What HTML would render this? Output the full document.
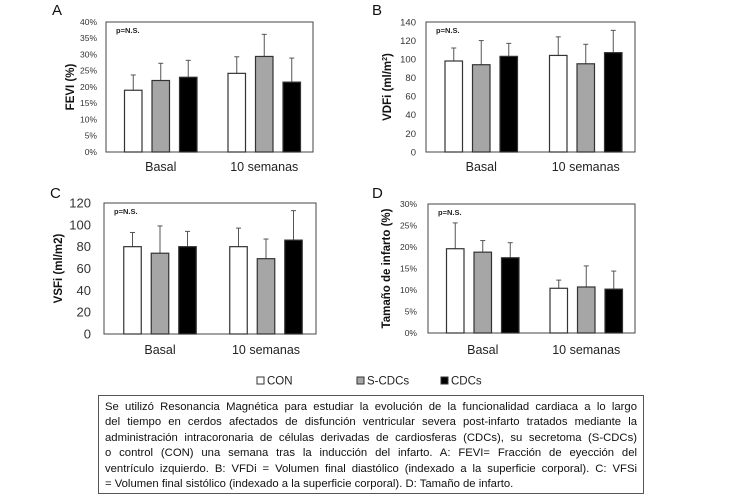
<!DOCTYPE html>
<html><head><meta charset="utf-8">
<style>
body{margin:0;background:#fff;width:750px;height:500px;overflow:hidden;font-family:"Liberation Sans",sans-serif;}
svg{position:absolute;left:0;top:0}
#cap{position:absolute;left:98px;top:395px;width:532px;height:89px;border:1px solid #555;padding:4px 6px;font-size:11.3px;line-height:15.4px;color:#111;}
#cap div{text-align:justify;text-align-last:justify;white-space:nowrap;}
#cap div.last{text-align-last:left;}
</style></head><body>
<svg id="chart" width="750" height="500"></svg>
<div id="cap">
<div>Se utilizó Resonancia Magnética para estudiar la evolución de la funcionalidad cardiaca a lo largo</div>
<div>del tiempo en cerdos afectados de disfunción ventricular severa post-infarto tratados mediante la</div>
<div>administración intracoronaria de células derivadas de cardiosferas (CDCs), su secretoma (S-CDCs)</div>
<div>o control (CON) una semana tras la inducción del infarto. A: FEVI= Fracción de eyección del</div>
<div>ventrículo izquierdo. B: VFDi = Volumen final diastólico (indexado a la superficie corporal). C: VFSi</div>
<div class="last">= Volumen final sistólico (indexado a la superficie corporal). D: Tamaño de infarto.</div>
</div>
<script>
const categories=["Basal","10 semanas"];
const seriesNames=["CON","S-CDCs","CDCs"];
const aValues=[[19,24.2],[22,29.4],[23,21.5]];
const aErrTops=[[23.7,29.3],[27.3,36.2],[28.2,28.9]];
const aTicks=["0%","5%","10%","15%","20%","25%","30%","35%","40%"];
const bValues=[[98,104],[94,95],[103,107]];
const bErrTops=[[112,124],[120,116],[117,131]];
const bTicks=["0","20","40","60","80","100","120","140"];
const cValues=[[80,80],[74,69],[80,86]];
const cErrTops=[[93,97],[99,87],[94,113]];
const cTicks=["0","20","40","60","80","100","120"];
const dValues=[[19.6,10.4],[18.8,10.7],[17.5,10.2]];
const dErrTops=[[25.6,12.3],[21.5,15.6],[21,14.4]];
const dTicks=["0%","5%","10%","15%","20%","25%","30%"];

const svg=document.getElementById('chart');
const NS='http://www.w3.org/2000/svg';
function mk(tag,attrs,parent){const e=document.createElementNS(NS,tag);for(const k in attrs)e.setAttribute(k,attrs[k]);(parent||svg).appendChild(e);return e;}
const fills=['#ffffff','#a6a6a6','#000000'];

function drawChart(o){
  const g=mk('g',{});
  
  
  const max=o.max;
  const y=v=>o.y1-(v/max)*(o.y1-o.y0);
  const n=o.ticks.length;
  o.ticks.forEach((t,i)=>{
    const v=max*i/(n-1);
    const tx=mk('text',{x:o.tickX,y:y(v)+o.tfs*0.35,'text-anchor':'end','font-size':o.tfs,fill:'#333'},g);
    tx.textContent=t;
    
    
  });
  const box=mk('rect',{x:o.x0,y:o.y0,width:o.x1-o.x0,height:o.y1-o.y0,fill:'none',stroke:'#444','stroke-width':1},g);
  
  
  const groupW=(o.x1-o.x0)/categories.length;
  const bw=17.5,gap=10;
  categories.forEach((c,ci)=>{
    const cx=o.x0+groupW*(ci+0.5)+o.shift;
    seriesNames.forEach((s,si)=>{
      const v=o.values[si][ci];
      const bx=cx+(si-1)*(bw+gap)-bw/2;
      const et=o.errs[si][ci];
      const el=mk('line',{x1:bx+bw/2,x2:bx+bw/2,y1:y(v),y2:y(et),stroke:'#555','stroke-width':1},g);
      
      
      const ec=mk('line',{x1:bx+bw/2-2.5,x2:bx+bw/2+2.5,y1:y(et),y2:y(et),stroke:'#555','stroke-width':1},g);
      
      
      const r=mk('rect',{x:bx,y:y(v),width:bw,height:o.y1-y(v),fill:fills[si],stroke:'#333','stroke-width':1.2},g);
      
      
    });
    const lt=mk('text',{x:cx,y:o.catY,'text-anchor':'middle','font-size':12.5,fill:'#222'},g);
    lt.textContent=c;
    
    
  });
  const p=mk('text',{x:o.x0+10,y:o.y0+11,'font-size':7.5,'font-weight':'bold',fill:'#222'},g);
  p.textContent='p=N.S.';
  
  
  const ty=(o.y0+o.y1)/2;
  const tt=mk('text',{x:o.titleX,y:ty,'text-anchor':'middle','font-size':11.5,'font-weight':'bold',fill:'#111',transform:`rotate(-90 ${o.titleX} ${ty})`},g);
  tt.innerHTML=o.title;
  
  
  const pl=mk('text',{x:o.letterX,y:o.letterY,'font-size':15,fill:'#111'},g);
  pl.textContent=o.id;
  
  
}
drawChart({id:'A',x0:106,x1:313,y0:22,y1:152,max:40,ticks:aTicks,values:aValues,errs:aErrTops,tickX:97,tfs:8.5,catY:171,shift:3,title:'FEVI (%)',titleX:74,letterX:52,letterY:15});
drawChart({id:'B',x0:426,x1:635,y0:22,y1:152,max:140,ticks:bTicks,values:bValues,errs:bErrTops,tickX:416,tfs:9.5,catY:171,shift:3,title:'VDFi (ml/m<tspan font-size="7" dy="-4">2</tspan><tspan dy="4">)</tspan>',titleX:391,letterX:372,letterY:15});
drawChart({id:'C',x0:104,x1:316,y0:203,y1:334,max:120,ticks:cTicks,values:cValues,errs:cErrTops,tickX:91,tfs:13,catY:354,shift:3,title:'VSFi (ml/m2)',titleX:62,letterX:50,letterY:198});
drawChart({id:'D',x0:428,x1:635,y0:204,y1:333,max:30,ticks:dTicks,values:dValues,errs:dErrTops,tickX:417,tfs:8.5,catY:354,shift:3,title:'Tamaño de infarto (%)',titleX:390,letterX:372,letterY:198});
seriesNames.forEach((s,i)=>{
  const lx=[257,357,441][i];
  const r=mk('rect',{x:lx,y:377,width:7,height:7,fill:fills[i],stroke:'#333','stroke-width':1});
  
  
  const t=mk('text',{x:lx+10,y:384.5,'font-size':11.5,fill:'#222'});
  t.textContent=s;
  
  
});
</script>
</body></html>
